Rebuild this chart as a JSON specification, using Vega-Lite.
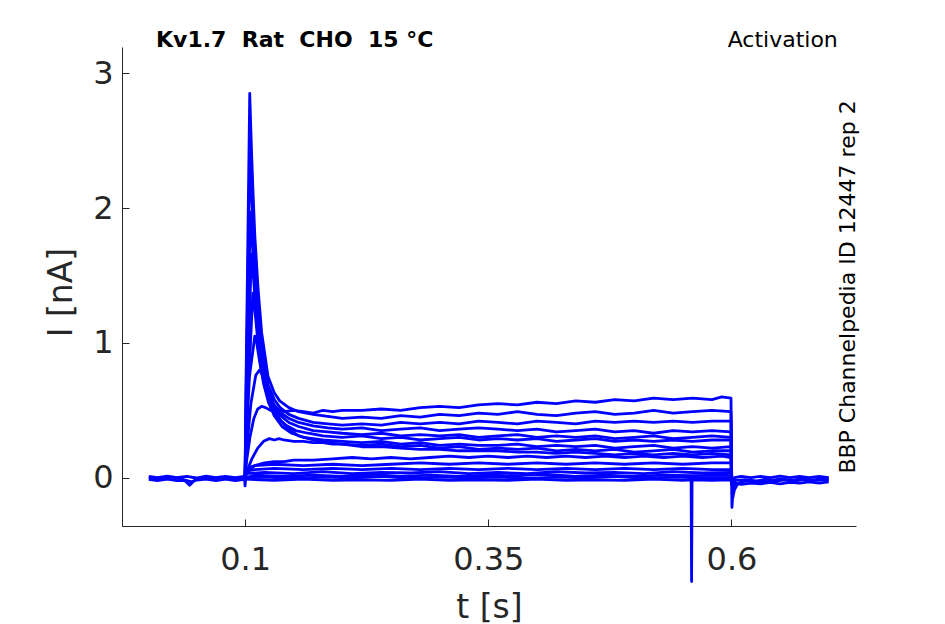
{
  "$schema": "https://vega.github.io/schema/vega-lite/v6.json",
  "autosize": "none",
  "width": 734,
  "height": 479,
  "padding": {"left": 122, "top": 47, "right": 89, "bottom": 98},
  "background": "white",
  "config": {
    "view": {"stroke": null},
    "axis": {
      "grid": false,
      "domainColor": "#262626",
      "tickColor": "#262626",
      "labelColor": "#262626",
      "titleColor": "#262626",
      "labelFont": "DejaVu Sans",
      "titleFont": "DejaVu Sans",
      "titleFontWeight": "normal",
      "labelFontSize": 32,
      "titleFontSize": 33,
      "tickSize": -7,
      "labelFlush": false
    }
  },
  "layer": [
    {
      "data": {
        "values": [
          {"s": "b1", "t": 0.001, "v": 0.01}, {"s": "b1", "t": 0.01, "v": 0.0}, {"s": "b1", "t": 0.02, "v": 0.012}, {"s": "b1", "t": 0.03, "v": 0.0}, {"s": "b1", "t": 0.04, "v": 0.01}, {"s": "b1", "t": 0.05, "v": -0.002}, {"s": "b1", "t": 0.06, "v": 0.012}, {"s": "b1", "t": 0.07, "v": 0.0}, {"s": "b1", "t": 0.08, "v": 0.01}, {"s": "b1", "t": 0.09, "v": 0.0}, {"s": "b1", "t": 0.0995, "v": 0.01},
          {"s": "b2", "t": 0.001, "v": -0.012}, {"s": "b2", "t": 0.01, "v": -0.022}, {"s": "b2", "t": 0.02, "v": -0.01}, {"s": "b2", "t": 0.03, "v": -0.022}, {"s": "b2", "t": 0.038, "v": -0.02}, {"s": "b2", "t": 0.043, "v": -0.055}, {"s": "b2", "t": 0.048, "v": -0.02}, {"s": "b2", "t": 0.06, "v": -0.01}, {"s": "b2", "t": 0.07, "v": -0.022}, {"s": "b2", "t": 0.08, "v": -0.01}, {"s": "b2", "t": 0.09, "v": -0.022}, {"s": "b2", "t": 0.0995, "v": -0.012}, {"s": "b2", "t": 0.1, "v": -0.06}, {"s": "b2", "t": 0.1006, "v": -0.01},
          {"s": "b3", "t": 0.001, "v": 0.0}, {"s": "b3", "t": 0.015, "v": -0.008}, {"s": "b3", "t": 0.025, "v": 0.004}, {"s": "b3", "t": 0.035, "v": -0.01}, {"s": "b3", "t": 0.045, "v": -0.03}, {"s": "b3", "t": 0.055, "v": 0.0}, {"s": "b3", "t": 0.065, "v": -0.01}, {"s": "b3", "t": 0.075, "v": 0.004}, {"s": "b3", "t": 0.085, "v": -0.008}, {"s": "b3", "t": 0.0995, "v": 0.0},

          {"s": "p1", "t": 0.1, "v": 0.0}, {"s": "p1", "t": 0.1008, "v": 0.6}, {"s": "p1", "t": 0.1048, "v": 2.85}, {"s": "p1", "t": 0.1065, "v": 2.45}, {"s": "p1", "t": 0.108, "v": 2.15}, {"s": "p1", "t": 0.11, "v": 1.8}, {"s": "p1", "t": 0.1134, "v": 1.4}, {"s": "p1", "t": 0.117, "v": 1.08}, {"s": "p1", "t": 0.1236, "v": 0.75}, {"s": "p1", "t": 0.13, "v": 0.63}, {"s": "p1", "t": 0.1356, "v": 0.57}, {"s": "p1", "t": 0.145, "v": 0.52}, {"s": "p1", "t": 0.155, "v": 0.49}, {"s": "p1", "t": 0.17, "v": 0.47}, {"s": "p1", "t": 0.185, "v": 0.455}, {"s": "p1", "t": 0.2, "v": 0.44}, {"s": "p1", "t": 0.22, "v": 0.45}, {"s": "p1", "t": 0.24, "v": 0.44}, {"s": "p1", "t": 0.26, "v": 0.46}, {"s": "p1", "t": 0.28, "v": 0.45}, {"s": "p1", "t": 0.3, "v": 0.47}, {"s": "p1", "t": 0.32, "v": 0.46}, {"s": "p1", "t": 0.34, "v": 0.48}, {"s": "p1", "t": 0.36, "v": 0.47}, {"s": "p1", "t": 0.38, "v": 0.49}, {"s": "p1", "t": 0.4, "v": 0.47}, {"s": "p1", "t": 0.42, "v": 0.46}, {"s": "p1", "t": 0.44, "v": 0.48}, {"s": "p1", "t": 0.46, "v": 0.49}, {"s": "p1", "t": 0.48, "v": 0.47}, {"s": "p1", "t": 0.5, "v": 0.48}, {"s": "p1", "t": 0.52, "v": 0.5}, {"s": "p1", "t": 0.54, "v": 0.48}, {"s": "p1", "t": 0.56, "v": 0.49}, {"s": "p1", "t": 0.58, "v": 0.5}, {"s": "p1", "t": 0.5995, "v": 0.49}, {"s": "p1", "t": 0.6003, "v": -0.05},

          {"s": "p2", "t": 0.1, "v": 0.0}, {"s": "p2", "t": 0.1008, "v": 0.5}, {"s": "p2", "t": 0.105, "v": 2.4}, {"s": "p2", "t": 0.1065, "v": 2.15}, {"s": "p2", "t": 0.108, "v": 1.92}, {"s": "p2", "t": 0.11, "v": 1.62}, {"s": "p2", "t": 0.1134, "v": 1.26}, {"s": "p2", "t": 0.117, "v": 0.98}, {"s": "p2", "t": 0.1236, "v": 0.69}, {"s": "p2", "t": 0.13, "v": 0.58}, {"s": "p2", "t": 0.136, "v": 0.52}, {"s": "p2", "t": 0.145, "v": 0.47}, {"s": "p2", "t": 0.155, "v": 0.44}, {"s": "p2", "t": 0.17, "v": 0.41}, {"s": "p2", "t": 0.185, "v": 0.4}, {"s": "p2", "t": 0.2, "v": 0.39}, {"s": "p2", "t": 0.22, "v": 0.4}, {"s": "p2", "t": 0.24, "v": 0.39}, {"s": "p2", "t": 0.26, "v": 0.41}, {"s": "p2", "t": 0.28, "v": 0.4}, {"s": "p2", "t": 0.3, "v": 0.41}, {"s": "p2", "t": 0.32, "v": 0.4}, {"s": "p2", "t": 0.34, "v": 0.42}, {"s": "p2", "t": 0.36, "v": 0.41}, {"s": "p2", "t": 0.38, "v": 0.4}, {"s": "p2", "t": 0.4, "v": 0.42}, {"s": "p2", "t": 0.42, "v": 0.41}, {"s": "p2", "t": 0.44, "v": 0.4}, {"s": "p2", "t": 0.46, "v": 0.42}, {"s": "p2", "t": 0.48, "v": 0.41}, {"s": "p2", "t": 0.5, "v": 0.42}, {"s": "p2", "t": 0.52, "v": 0.41}, {"s": "p2", "t": 0.54, "v": 0.42}, {"s": "p2", "t": 0.56, "v": 0.41}, {"s": "p2", "t": 0.58, "v": 0.42}, {"s": "p2", "t": 0.5995, "v": 0.42}, {"s": "p2", "t": 0.6003, "v": -0.05},

          {"s": "p3", "t": 0.1, "v": 0.0}, {"s": "p3", "t": 0.1008, "v": 0.4}, {"s": "p3", "t": 0.1055, "v": 1.97}, {"s": "p3", "t": 0.107, "v": 1.8}, {"s": "p3", "t": 0.109, "v": 1.55}, {"s": "p3", "t": 0.1115, "v": 1.28}, {"s": "p3", "t": 0.115, "v": 1.0}, {"s": "p3", "t": 0.119, "v": 0.8}, {"s": "p3", "t": 0.124, "v": 0.64}, {"s": "p3", "t": 0.13, "v": 0.54}, {"s": "p3", "t": 0.137, "v": 0.48}, {"s": "p3", "t": 0.145, "v": 0.44}, {"s": "p3", "t": 0.155, "v": 0.41}, {"s": "p3", "t": 0.17, "v": 0.385}, {"s": "p3", "t": 0.185, "v": 0.37}, {"s": "p3", "t": 0.2, "v": 0.36}, {"s": "p3", "t": 0.22, "v": 0.37}, {"s": "p3", "t": 0.24, "v": 0.35}, {"s": "p3", "t": 0.26, "v": 0.36}, {"s": "p3", "t": 0.28, "v": 0.37}, {"s": "p3", "t": 0.3, "v": 0.35}, {"s": "p3", "t": 0.32, "v": 0.36}, {"s": "p3", "t": 0.34, "v": 0.37}, {"s": "p3", "t": 0.36, "v": 0.36}, {"s": "p3", "t": 0.38, "v": 0.35}, {"s": "p3", "t": 0.4, "v": 0.36}, {"s": "p3", "t": 0.42, "v": 0.34}, {"s": "p3", "t": 0.44, "v": 0.35}, {"s": "p3", "t": 0.46, "v": 0.36}, {"s": "p3", "t": 0.48, "v": 0.34}, {"s": "p3", "t": 0.5, "v": 0.35}, {"s": "p3", "t": 0.52, "v": 0.33}, {"s": "p3", "t": 0.54, "v": 0.35}, {"s": "p3", "t": 0.56, "v": 0.34}, {"s": "p3", "t": 0.58, "v": 0.35}, {"s": "p3", "t": 0.5995, "v": 0.34}, {"s": "p3", "t": 0.6003, "v": -0.05},

          {"s": "p4", "t": 0.1, "v": 0.0}, {"s": "p4", "t": 0.1008, "v": 0.3}, {"s": "p4", "t": 0.1065, "v": 1.66}, {"s": "p4", "t": 0.108, "v": 1.55}, {"s": "p4", "t": 0.11, "v": 1.35}, {"s": "p4", "t": 0.113, "v": 1.1}, {"s": "p4", "t": 0.117, "v": 0.86}, {"s": "p4", "t": 0.122, "v": 0.67}, {"s": "p4", "t": 0.128, "v": 0.55}, {"s": "p4", "t": 0.135, "v": 0.47}, {"s": "p4", "t": 0.145, "v": 0.41}, {"s": "p4", "t": 0.155, "v": 0.38}, {"s": "p4", "t": 0.17, "v": 0.35}, {"s": "p4", "t": 0.185, "v": 0.34}, {"s": "p4", "t": 0.2, "v": 0.33}, {"s": "p4", "t": 0.22, "v": 0.32}, {"s": "p4", "t": 0.24, "v": 0.33}, {"s": "p4", "t": 0.26, "v": 0.31}, {"s": "p4", "t": 0.28, "v": 0.32}, {"s": "p4", "t": 0.3, "v": 0.31}, {"s": "p4", "t": 0.32, "v": 0.32}, {"s": "p4", "t": 0.34, "v": 0.3}, {"s": "p4", "t": 0.36, "v": 0.31}, {"s": "p4", "t": 0.38, "v": 0.32}, {"s": "p4", "t": 0.4, "v": 0.3}, {"s": "p4", "t": 0.42, "v": 0.31}, {"s": "p4", "t": 0.44, "v": 0.3}, {"s": "p4", "t": 0.46, "v": 0.31}, {"s": "p4", "t": 0.48, "v": 0.29}, {"s": "p4", "t": 0.5, "v": 0.3}, {"s": "p4", "t": 0.52, "v": 0.31}, {"s": "p4", "t": 0.54, "v": 0.29}, {"s": "p4", "t": 0.56, "v": 0.3}, {"s": "p4", "t": 0.58, "v": 0.31}, {"s": "p4", "t": 0.5995, "v": 0.3}, {"s": "p4", "t": 0.6003, "v": -0.05},

          {"s": "p5", "t": 0.1, "v": 0.0}, {"s": "p5", "t": 0.101, "v": 0.3}, {"s": "p5", "t": 0.108, "v": 1.37}, {"s": "p5", "t": 0.11, "v": 1.25}, {"s": "p5", "t": 0.1125, "v": 1.06}, {"s": "p5", "t": 0.116, "v": 0.84}, {"s": "p5", "t": 0.12, "v": 0.68}, {"s": "p5", "t": 0.126, "v": 0.54}, {"s": "p5", "t": 0.133, "v": 0.45}, {"s": "p5", "t": 0.142, "v": 0.39}, {"s": "p5", "t": 0.152, "v": 0.35}, {"s": "p5", "t": 0.165, "v": 0.33}, {"s": "p5", "t": 0.18, "v": 0.31}, {"s": "p5", "t": 0.2, "v": 0.3}, {"s": "p5", "t": 0.22, "v": 0.31}, {"s": "p5", "t": 0.24, "v": 0.29}, {"s": "p5", "t": 0.26, "v": 0.3}, {"s": "p5", "t": 0.28, "v": 0.28}, {"s": "p5", "t": 0.3, "v": 0.29}, {"s": "p5", "t": 0.32, "v": 0.3}, {"s": "p5", "t": 0.34, "v": 0.28}, {"s": "p5", "t": 0.36, "v": 0.29}, {"s": "p5", "t": 0.38, "v": 0.28}, {"s": "p5", "t": 0.4, "v": 0.29}, {"s": "p5", "t": 0.42, "v": 0.27}, {"s": "p5", "t": 0.44, "v": 0.28}, {"s": "p5", "t": 0.46, "v": 0.29}, {"s": "p5", "t": 0.48, "v": 0.27}, {"s": "p5", "t": 0.5, "v": 0.28}, {"s": "p5", "t": 0.52, "v": 0.27}, {"s": "p5", "t": 0.54, "v": 0.28}, {"s": "p5", "t": 0.56, "v": 0.27}, {"s": "p5", "t": 0.58, "v": 0.28}, {"s": "p5", "t": 0.5995, "v": 0.28}, {"s": "p5", "t": 0.6003, "v": -0.05},

          {"s": "p6", "t": 0.1, "v": 0.0}, {"s": "p6", "t": 0.101, "v": 0.25}, {"s": "p6", "t": 0.1045, "v": 0.75}, {"s": "p6", "t": 0.11, "v": 1.05}, {"s": "p6", "t": 0.112, "v": 1.0}, {"s": "p6", "t": 0.115, "v": 0.86}, {"s": "p6", "t": 0.119, "v": 0.7}, {"s": "p6", "t": 0.124, "v": 0.56}, {"s": "p6", "t": 0.13, "v": 0.46}, {"s": "p6", "t": 0.138, "v": 0.38}, {"s": "p6", "t": 0.148, "v": 0.33}, {"s": "p6", "t": 0.16, "v": 0.3}, {"s": "p6", "t": 0.18, "v": 0.28}, {"s": "p6", "t": 0.2, "v": 0.27}, {"s": "p6", "t": 0.22, "v": 0.26}, {"s": "p6", "t": 0.24, "v": 0.27}, {"s": "p6", "t": 0.26, "v": 0.25}, {"s": "p6", "t": 0.28, "v": 0.26}, {"s": "p6", "t": 0.3, "v": 0.24}, {"s": "p6", "t": 0.32, "v": 0.25}, {"s": "p6", "t": 0.34, "v": 0.24}, {"s": "p6", "t": 0.36, "v": 0.24}, {"s": "p6", "t": 0.38, "v": 0.25}, {"s": "p6", "t": 0.4, "v": 0.23}, {"s": "p6", "t": 0.42, "v": 0.24}, {"s": "p6", "t": 0.44, "v": 0.23}, {"s": "p6", "t": 0.46, "v": 0.24}, {"s": "p6", "t": 0.48, "v": 0.22}, {"s": "p6", "t": 0.5, "v": 0.23}, {"s": "p6", "t": 0.52, "v": 0.24}, {"s": "p6", "t": 0.54, "v": 0.22}, {"s": "p6", "t": 0.56, "v": 0.23}, {"s": "p6", "t": 0.58, "v": 0.22}, {"s": "p6", "t": 0.5995, "v": 0.23}, {"s": "p6", "t": 0.6003, "v": -0.05},

          {"s": "p7", "t": 0.1, "v": 0.0}, {"s": "p7", "t": 0.1015, "v": 0.2}, {"s": "p7", "t": 0.106, "v": 0.55}, {"s": "p7", "t": 0.111, "v": 0.76}, {"s": "p7", "t": 0.115, "v": 0.8}, {"s": "p7", "t": 0.118, "v": 0.76}, {"s": "p7", "t": 0.12, "v": 0.72}, {"s": "p7", "t": 0.124, "v": 0.62}, {"s": "p7", "t": 0.13, "v": 0.5}, {"s": "p7", "t": 0.137, "v": 0.42}, {"s": "p7", "t": 0.145, "v": 0.36}, {"s": "p7", "t": 0.155, "v": 0.31}, {"s": "p7", "t": 0.17, "v": 0.28}, {"s": "p7", "t": 0.185, "v": 0.26}, {"s": "p7", "t": 0.2, "v": 0.25}, {"s": "p7", "t": 0.22, "v": 0.24}, {"s": "p7", "t": 0.24, "v": 0.25}, {"s": "p7", "t": 0.26, "v": 0.23}, {"s": "p7", "t": 0.28, "v": 0.24}, {"s": "p7", "t": 0.3, "v": 0.22}, {"s": "p7", "t": 0.32, "v": 0.23}, {"s": "p7", "t": 0.34, "v": 0.21}, {"s": "p7", "t": 0.36, "v": 0.22}, {"s": "p7", "t": 0.38, "v": 0.21}, {"s": "p7", "t": 0.4, "v": 0.22}, {"s": "p7", "t": 0.42, "v": 0.2}, {"s": "p7", "t": 0.44, "v": 0.21}, {"s": "p7", "t": 0.46, "v": 0.2}, {"s": "p7", "t": 0.48, "v": 0.21}, {"s": "p7", "t": 0.5, "v": 0.19}, {"s": "p7", "t": 0.52, "v": 0.2}, {"s": "p7", "t": 0.54, "v": 0.21}, {"s": "p7", "t": 0.56, "v": 0.19}, {"s": "p7", "t": 0.58, "v": 0.2}, {"s": "p7", "t": 0.5995, "v": 0.2}, {"s": "p7", "t": 0.6003, "v": -0.05},

          {"s": "p8", "t": 0.1, "v": 0.0}, {"s": "p8", "t": 0.1015, "v": 0.12}, {"s": "p8", "t": 0.105, "v": 0.3}, {"s": "p8", "t": 0.109, "v": 0.44}, {"s": "p8", "t": 0.113, "v": 0.51}, {"s": "p8", "t": 0.117, "v": 0.53}, {"s": "p8", "t": 0.121, "v": 0.52}, {"s": "p8", "t": 0.126, "v": 0.5}, {"s": "p8", "t": 0.132, "v": 0.51}, {"s": "p8", "t": 0.14, "v": 0.49}, {"s": "p8", "t": 0.15, "v": 0.5}, {"s": "p8", "t": 0.16, "v": 0.49}, {"s": "p8", "t": 0.17, "v": 0.48}, {"s": "p8", "t": 0.18, "v": 0.5}, {"s": "p8", "t": 0.19, "v": 0.49}, {"s": "p8", "t": 0.2, "v": 0.5}, {"s": "p8", "t": 0.22, "v": 0.5}, {"s": "p8", "t": 0.24, "v": 0.51}, {"s": "p8", "t": 0.26, "v": 0.5}, {"s": "p8", "t": 0.28, "v": 0.52}, {"s": "p8", "t": 0.3, "v": 0.53}, {"s": "p8", "t": 0.32, "v": 0.52}, {"s": "p8", "t": 0.34, "v": 0.54}, {"s": "p8", "t": 0.36, "v": 0.55}, {"s": "p8", "t": 0.38, "v": 0.54}, {"s": "p8", "t": 0.4, "v": 0.56}, {"s": "p8", "t": 0.42, "v": 0.55}, {"s": "p8", "t": 0.44, "v": 0.57}, {"s": "p8", "t": 0.46, "v": 0.56}, {"s": "p8", "t": 0.48, "v": 0.58}, {"s": "p8", "t": 0.5, "v": 0.57}, {"s": "p8", "t": 0.52, "v": 0.59}, {"s": "p8", "t": 0.54, "v": 0.58}, {"s": "p8", "t": 0.56, "v": 0.59}, {"s": "p8", "t": 0.58, "v": 0.58}, {"s": "p8", "t": 0.59, "v": 0.6}, {"s": "p8", "t": 0.5995, "v": 0.59}, {"s": "p8", "t": 0.6003, "v": -0.05},

          {"s": "p9", "t": 0.1, "v": 0.0}, {"s": "p9", "t": 0.102, "v": 0.05}, {"s": "p9", "t": 0.107, "v": 0.14}, {"s": "p9", "t": 0.113, "v": 0.22}, {"s": "p9", "t": 0.119, "v": 0.27}, {"s": "p9", "t": 0.125, "v": 0.29}, {"s": "p9", "t": 0.13, "v": 0.28}, {"s": "p9", "t": 0.135, "v": 0.29}, {"s": "p9", "t": 0.14, "v": 0.28}, {"s": "p9", "t": 0.15, "v": 0.27}, {"s": "p9", "t": 0.16, "v": 0.27}, {"s": "p9", "t": 0.17, "v": 0.26}, {"s": "p9", "t": 0.18, "v": 0.26}, {"s": "p9", "t": 0.19, "v": 0.25}, {"s": "p9", "t": 0.2, "v": 0.25}, {"s": "p9", "t": 0.22, "v": 0.23}, {"s": "p9", "t": 0.24, "v": 0.23}, {"s": "p9", "t": 0.26, "v": 0.22}, {"s": "p9", "t": 0.28, "v": 0.21}, {"s": "p9", "t": 0.3, "v": 0.21}, {"s": "p9", "t": 0.32, "v": 0.2}, {"s": "p9", "t": 0.34, "v": 0.2}, {"s": "p9", "t": 0.36, "v": 0.2}, {"s": "p9", "t": 0.38, "v": 0.19}, {"s": "p9", "t": 0.4, "v": 0.19}, {"s": "p9", "t": 0.42, "v": 0.18}, {"s": "p9", "t": 0.44, "v": 0.19}, {"s": "p9", "t": 0.46, "v": 0.18}, {"s": "p9", "t": 0.48, "v": 0.17}, {"s": "p9", "t": 0.5, "v": 0.18}, {"s": "p9", "t": 0.52, "v": 0.17}, {"s": "p9", "t": 0.54, "v": 0.18}, {"s": "p9", "t": 0.56, "v": 0.17}, {"s": "p9", "t": 0.58, "v": 0.18}, {"s": "p9", "t": 0.5995, "v": 0.17}, {"s": "p9", "t": 0.6003, "v": -0.05},

          {"s": "p10", "t": 0.1, "v": 0.0}, {"s": "p10", "t": 0.103, "v": 0.05}, {"s": "p10", "t": 0.11, "v": 0.09}, {"s": "p10", "t": 0.12, "v": 0.11}, {"s": "p10", "t": 0.13, "v": 0.12}, {"s": "p10", "t": 0.14, "v": 0.12}, {"s": "p10", "t": 0.15, "v": 0.13}, {"s": "p10", "t": 0.17, "v": 0.13}, {"s": "p10", "t": 0.19, "v": 0.14}, {"s": "p10", "t": 0.21, "v": 0.15}, {"s": "p10", "t": 0.23, "v": 0.14}, {"s": "p10", "t": 0.25, "v": 0.15}, {"s": "p10", "t": 0.27, "v": 0.14}, {"s": "p10", "t": 0.29, "v": 0.15}, {"s": "p10", "t": 0.31, "v": 0.16}, {"s": "p10", "t": 0.33, "v": 0.15}, {"s": "p10", "t": 0.35, "v": 0.16}, {"s": "p10", "t": 0.37, "v": 0.15}, {"s": "p10", "t": 0.39, "v": 0.16}, {"s": "p10", "t": 0.41, "v": 0.15}, {"s": "p10", "t": 0.43, "v": 0.16}, {"s": "p10", "t": 0.45, "v": 0.15}, {"s": "p10", "t": 0.47, "v": 0.16}, {"s": "p10", "t": 0.49, "v": 0.15}, {"s": "p10", "t": 0.51, "v": 0.16}, {"s": "p10", "t": 0.53, "v": 0.15}, {"s": "p10", "t": 0.55, "v": 0.16}, {"s": "p10", "t": 0.57, "v": 0.15}, {"s": "p10", "t": 0.59, "v": 0.16}, {"s": "p10", "t": 0.5995, "v": 0.15}, {"s": "p10", "t": 0.6003, "v": -0.05},

          {"s": "p11", "t": 0.1, "v": 0.0}, {"s": "p11", "t": 0.102, "v": 0.07}, {"s": "p11", "t": 0.11, "v": 0.09}, {"s": "p11", "t": 0.13, "v": 0.1}, {"s": "p11", "t": 0.16, "v": 0.09}, {"s": "p11", "t": 0.19, "v": 0.1}, {"s": "p11", "t": 0.22, "v": 0.09}, {"s": "p11", "t": 0.25, "v": 0.1}, {"s": "p11", "t": 0.28, "v": 0.11}, {"s": "p11", "t": 0.31, "v": 0.1}, {"s": "p11", "t": 0.34, "v": 0.11}, {"s": "p11", "t": 0.37, "v": 0.1}, {"s": "p11", "t": 0.4, "v": 0.11}, {"s": "p11", "t": 0.43, "v": 0.1}, {"s": "p11", "t": 0.46, "v": 0.11}, {"s": "p11", "t": 0.49, "v": 0.1}, {"s": "p11", "t": 0.52, "v": 0.11}, {"s": "p11", "t": 0.55, "v": 0.1}, {"s": "p11", "t": 0.58, "v": 0.11}, {"s": "p11", "t": 0.5995, "v": 0.11}, {"s": "p11", "t": 0.6003, "v": -0.05},

          {"s": "p12", "t": 0.1, "v": 0.0}, {"s": "p12", "t": 0.101, "v": 0.05}, {"s": "p12", "t": 0.11, "v": 0.06}, {"s": "p12", "t": 0.13, "v": 0.07}, {"s": "p12", "t": 0.16, "v": 0.06}, {"s": "p12", "t": 0.19, "v": 0.07}, {"s": "p12", "t": 0.22, "v": 0.06}, {"s": "p12", "t": 0.25, "v": 0.07}, {"s": "p12", "t": 0.28, "v": 0.06}, {"s": "p12", "t": 0.31, "v": 0.07}, {"s": "p12", "t": 0.34, "v": 0.06}, {"s": "p12", "t": 0.37, "v": 0.07}, {"s": "p12", "t": 0.4, "v": 0.06}, {"s": "p12", "t": 0.43, "v": 0.07}, {"s": "p12", "t": 0.46, "v": 0.06}, {"s": "p12", "t": 0.49, "v": 0.07}, {"s": "p12", "t": 0.52, "v": 0.06}, {"s": "p12", "t": 0.55, "v": 0.07}, {"s": "p12", "t": 0.58, "v": 0.06}, {"s": "p12", "t": 0.5995, "v": 0.06}, {"s": "p12", "t": 0.6003, "v": -0.05},

          {"s": "p13", "t": 0.1, "v": 0.0}, {"s": "p13", "t": 0.101, "v": 0.03}, {"s": "p13", "t": 0.12, "v": 0.04}, {"s": "p13", "t": 0.15, "v": 0.03}, {"s": "p13", "t": 0.18, "v": 0.045}, {"s": "p13", "t": 0.21, "v": 0.03}, {"s": "p13", "t": 0.24, "v": 0.04}, {"s": "p13", "t": 0.27, "v": 0.035}, {"s": "p13", "t": 0.3, "v": 0.045}, {"s": "p13", "t": 0.33, "v": 0.03}, {"s": "p13", "t": 0.36, "v": 0.04}, {"s": "p13", "t": 0.39, "v": 0.03}, {"s": "p13", "t": 0.42, "v": 0.045}, {"s": "p13", "t": 0.45, "v": 0.035}, {"s": "p13", "t": 0.48, "v": 0.04}, {"s": "p13", "t": 0.51, "v": 0.03}, {"s": "p13", "t": 0.54, "v": 0.045}, {"s": "p13", "t": 0.57, "v": 0.035}, {"s": "p13", "t": 0.5995, "v": 0.04}, {"s": "p13", "t": 0.6003, "v": -0.05},

          {"s": "p14", "t": 0.1, "v": 0.0}, {"s": "p14", "t": 0.11, "v": 0.02}, {"s": "p14", "t": 0.14, "v": 0.01}, {"s": "p14", "t": 0.17, "v": 0.02}, {"s": "p14", "t": 0.2, "v": 0.01}, {"s": "p14", "t": 0.23, "v": 0.025}, {"s": "p14", "t": 0.26, "v": 0.01}, {"s": "p14", "t": 0.29, "v": 0.02}, {"s": "p14", "t": 0.32, "v": 0.01}, {"s": "p14", "t": 0.35, "v": 0.02}, {"s": "p14", "t": 0.38, "v": 0.015}, {"s": "p14", "t": 0.41, "v": 0.025}, {"s": "p14", "t": 0.44, "v": 0.01}, {"s": "p14", "t": 0.47, "v": 0.02}, {"s": "p14", "t": 0.5, "v": 0.01}, {"s": "p14", "t": 0.53, "v": 0.02}, {"s": "p14", "t": 0.56, "v": 0.015}, {"s": "p14", "t": 0.59, "v": 0.02}, {"s": "p14", "t": 0.5995, "v": 0.015}, {"s": "p14", "t": 0.6003, "v": -0.05},

          {"s": "p15", "t": 0.1, "v": 0.0}, {"s": "p15", "t": 0.12, "v": 0.005}, {"s": "p15", "t": 0.15, "v": -0.005}, {"s": "p15", "t": 0.18, "v": 0.005}, {"s": "p15", "t": 0.21, "v": 0.0}, {"s": "p15", "t": 0.24, "v": 0.01}, {"s": "p15", "t": 0.27, "v": -0.005}, {"s": "p15", "t": 0.3, "v": 0.005}, {"s": "p15", "t": 0.33, "v": 0.0}, {"s": "p15", "t": 0.36, "v": 0.005}, {"s": "p15", "t": 0.39, "v": -0.005}, {"s": "p15", "t": 0.42, "v": 0.005}, {"s": "p15", "t": 0.45, "v": 0.0}, {"s": "p15", "t": 0.48, "v": 0.01}, {"s": "p15", "t": 0.51, "v": -0.005}, {"s": "p15", "t": 0.54, "v": 0.005}, {"s": "p15", "t": 0.57, "v": 0.0}, {"s": "p15", "t": 0.5995, "v": 0.0}, {"s": "p15", "t": 0.6003, "v": -0.05},

          {"s": "p16", "t": 0.1, "v": -0.01}, {"s": "p16", "t": 0.13, "v": -0.02}, {"s": "p16", "t": 0.16, "v": -0.01}, {"s": "p16", "t": 0.19, "v": -0.02}, {"s": "p16", "t": 0.22, "v": -0.015}, {"s": "p16", "t": 0.25, "v": -0.02}, {"s": "p16", "t": 0.28, "v": -0.01}, {"s": "p16", "t": 0.31, "v": -0.02}, {"s": "p16", "t": 0.34, "v": -0.015}, {"s": "p16", "t": 0.37, "v": -0.02}, {"s": "p16", "t": 0.4, "v": -0.01}, {"s": "p16", "t": 0.43, "v": -0.02}, {"s": "p16", "t": 0.46, "v": -0.015}, {"s": "p16", "t": 0.49, "v": -0.02}, {"s": "p16", "t": 0.52, "v": -0.01}, {"s": "p16", "t": 0.55, "v": -0.02}, {"s": "p16", "t": 0.5585, "v": -0.015}, {"s": "p16", "t": 0.559, "v": -0.77}, {"s": "p16", "t": 0.5595, "v": -0.015}, {"s": "p16", "t": 0.58, "v": -0.02}, {"s": "p16", "t": 0.5995, "v": -0.015}, {"s": "p16", "t": 0.6003, "v": -0.05},

          {"s": "a1", "t": 0.6, "v": 0.0}, {"s": "a1", "t": 0.6005, "v": -0.22}, {"s": "a1", "t": 0.601, "v": -0.16}, {"s": "a1", "t": 0.603, "v": -0.09}, {"s": "a1", "t": 0.606, "v": -0.05}, {"s": "a1", "t": 0.61, "v": -0.03}, {"s": "a1", "t": 0.62, "v": -0.02}, {"s": "a1", "t": 0.63, "v": -0.03}, {"s": "a1", "t": 0.64, "v": -0.02}, {"s": "a1", "t": 0.65, "v": -0.01}, {"s": "a1", "t": 0.66, "v": -0.02}, {"s": "a1", "t": 0.67, "v": -0.01}, {"s": "a1", "t": 0.68, "v": -0.02}, {"s": "a1", "t": 0.69, "v": -0.01}, {"s": "a1", "t": 0.7, "v": -0.01},
          {"s": "a2", "t": 0.6005, "v": -0.12}, {"s": "a2", "t": 0.602, "v": -0.06}, {"s": "a2", "t": 0.605, "v": -0.04}, {"s": "a2", "t": 0.61, "v": -0.05}, {"s": "a2", "t": 0.62, "v": -0.04}, {"s": "a2", "t": 0.63, "v": -0.045}, {"s": "a2", "t": 0.64, "v": -0.035}, {"s": "a2", "t": 0.65, "v": -0.045}, {"s": "a2", "t": 0.66, "v": -0.035}, {"s": "a2", "t": 0.67, "v": -0.04}, {"s": "a2", "t": 0.68, "v": -0.03}, {"s": "a2", "t": 0.69, "v": -0.04}, {"s": "a2", "t": 0.7, "v": -0.03},
          {"s": "a3", "t": 0.6005, "v": -0.05}, {"s": "a3", "t": 0.603, "v": 0.0}, {"s": "a3", "t": 0.61, "v": 0.01}, {"s": "a3", "t": 0.62, "v": 0.0}, {"s": "a3", "t": 0.63, "v": 0.01}, {"s": "a3", "t": 0.64, "v": 0.0}, {"s": "a3", "t": 0.65, "v": 0.012}, {"s": "a3", "t": 0.66, "v": 0.0}, {"s": "a3", "t": 0.67, "v": 0.01}, {"s": "a3", "t": 0.68, "v": 0.0}, {"s": "a3", "t": 0.69, "v": 0.01}, {"s": "a3", "t": 0.7, "v": 0.0},
          {"s": "a4", "t": 0.6008, "v": -0.08}, {"s": "a4", "t": 0.604, "v": -0.02}, {"s": "a4", "t": 0.615, "v": -0.015}, {"s": "a4", "t": 0.625, "v": -0.025}, {"s": "a4", "t": 0.635, "v": -0.01}, {"s": "a4", "t": 0.645, "v": -0.025}, {"s": "a4", "t": 0.655, "v": -0.015}, {"s": "a4", "t": 0.665, "v": -0.025}, {"s": "a4", "t": 0.675, "v": -0.01}, {"s": "a4", "t": 0.685, "v": -0.02}, {"s": "a4", "t": 0.7, "v": -0.015}
        ]
      },
      "mark": {"type": "line", "color": "#0000ff", "strokeWidth": 2.8, "strokeJoin": "round"},
      "encoding": {
        "x": {
          "field": "t",
          "type": "quantitative",
          "scale": {"domain": [-0.0265, 0.728], "nice": false, "zero": false},
          "axis": {"values": [0.1, 0.35, 0.6], "format": "~g", "title": "t [s]", "labelPadding": 25, "titlePadding": 16}
        },
        "y": {
          "field": "v",
          "type": "quantitative",
          "scale": {"domain": [-0.358, 3.195], "nice": false, "zero": false},
          "axis": {"values": [0, 1, 2, 3], "format": "~g", "title": "I [nA]", "labelPadding": 16, "titlePadding": 14, "titleY": 245}
        },
        "detail": {"field": "s", "type": "nominal"}
      }
    },
    {
      "data": {"values": [{"label": "Kv1.7\u00a0\u00a0Rat\u00a0\u00a0CHO\u00a0\u00a015\u00a0°C"}]},
      "mark": {"type": "text", "align": "left", "baseline": "alphabetic", "font": "DejaVu Sans", "fontSize": 22, "fontWeight": "bold", "color": "black"},
      "encoding": {
        "x": {"datum": 0.0085, "type": "quantitative"},
        "y": {"datum": 3.195, "type": "quantitative"},
        "text": {"field": "label"}
      }
    },
    {
      "data": {"values": [{"label": "Activation"}]},
      "mark": {"type": "text", "align": "right", "baseline": "alphabetic", "font": "DejaVu Sans", "fontSize": 22, "color": "black"},
      "encoding": {
        "x": {"datum": 0.7093, "type": "quantitative"},
        "y": {"datum": 3.195, "type": "quantitative"},
        "text": {"field": "label"}
      }
    },
    {
      "data": {"values": [{"label": "BBP Channelpedia ID 12447 rep 2"}]},
      "mark": {"type": "text", "align": "center", "baseline": "middle", "angle": 270, "font": "DejaVu Sans", "fontSize": 22, "color": "black"},
      "encoding": {
        "x": {"datum": 0.7195, "type": "quantitative"},
        "y": {"datum": 1.415, "type": "quantitative"},
        "text": {"field": "label"}
      }
    }
  ]
}
